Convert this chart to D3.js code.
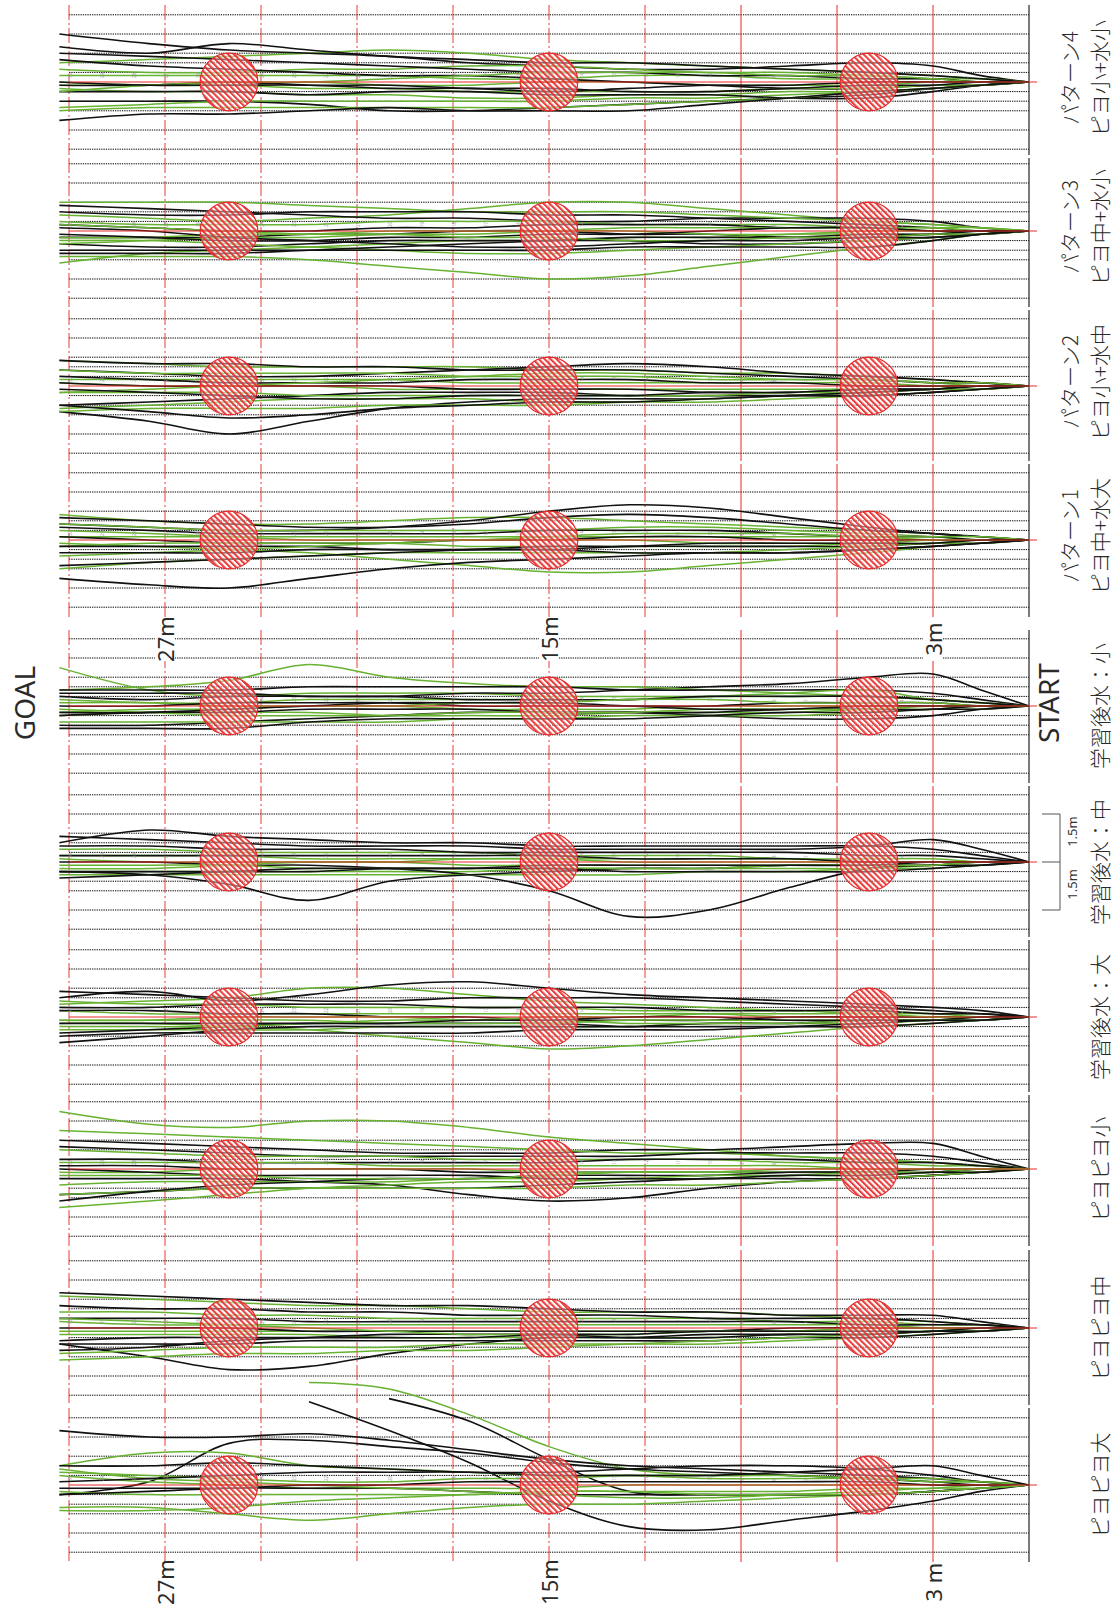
<!DOCTYPE html>
<html>
<head>
<meta charset="utf-8">
<script src="https://cdn.jsdelivr.net/npm/d3@7"></script>
<style>
  html, body { margin: 0; padding: 0; background: #fff; }
  svg { display: block; }
</style>
</head>
<body>
<svg id="chart" width="1115" height="1612"></svg>
<script>
// Sampling distances along the course (m from START)
const DISTANCES_M = [0, 1.5, 3, 5, 7.5, 10, 12.5, 15, 17.5, 20, 22.5, 25, 27.5, 30.3];
// Gridline distances (m) and lateral guide offsets (m)
const DIST_TICKS = [0, 3, 6, 9, 12, 15, 18, 21, 24, 27, 30];
const LATERAL_TICKS = [-2.1, -1.5, -0.9, -0.6, -0.3, 0.3, 0.6, 0.9, 1.5, 2.1];
const OBSTACLES_M = [5, 15, 25];
const OBSTACLE_RADIUS_M = 0.9;
const AXIS_LABELS = [{ d: 27, text: "27m" }, { d: 15, text: "15m" }, { d: 3, text: "3m" }];
const AXIS_LABELS_BOTTOM = [{ d: 27, text: "27m" }, { d: 15, text: "15m" }, { d: 3, text: "3 m" }];

// Condition names, top to bottom
const PANEL_TITLES = ["パターン4", "パターン3", "パターン2", "パターン1",
  "学習後水：小", "学習後水：中", "学習後水：大", "ピヨピヨ小", "ピヨピヨ中", "ピヨピヨ大"];
const PANEL_SUBTITLES = ["ピヨ小+水小", "ピヨ中+水小", "ピヨ小+水中", "ピヨ中+水大",
  null, null, null, null, null, null];

// Walking tracks: lateral deviation (dm, + = lower side) at each sampling distance
const p4Black = [
  [0,-2,-5,-6,-5,-4,-4,-5,-6,-8,-9,-10,-12,-15],
  [0,-1,-2,-3,-4,-5,-6,-6,-7,-8,-10,-12,-9,-11],
  [0,0,-1,-1,-2,-2,-3,-3,-4,-5,-6,-7,-8,-9],
  [0,1,1,2,2,1,0,-1,-2,-2,-3,-4,-5,-7],
  [0,0,1,1,2,3,3,2,2,1,1,0,1,1],
  [0,1,2,4,5,6,7,8,9,9,7,6,6,6],
  [0,1,3,5,5,4,4,4,3,3,4,3,3,3],
  [0,1,2,3,5,7,9,9,9,8,9,10,10,12],
  [0,0,0,0,1,1,2,3,2,2,1,1,1,0]
];
const p4Green = [
  [0,-1,-2,-3,-4,-5,-6,-7,-9,-10,-9,-8,-7,-6],
  [0,-1,-1,-2,-3,-3,-4,-5,-5,-4,-4,-3,-3,-4],
  [0,0,-1,-1,-1,-2,-2,-1,-1,-2,-2,-2,-2,-2],
  [0,0,0,1,1,1,0,0,1,1,0,1,1,1],
  [0,1,1,2,2,3,3,3,3,2,2,1,1,0],
  [0,1,2,3,3,4,4,5,5,4,4,3,3,2],
  [0,1,2,3,4,5,5,6,6,6,6,6,7,8],
  [0,1,2,3,5,6,7,8,8,8,8,8,8,9],
  [0,0,-1,-2,-2,-3,-3,-3,-2,-1,0,0,1,3]
];
const p3Black = [
  [0,-1,-3,-4,-4,-4,-3,-3,-4,-4,-5,-6,-7,-8],
  [0,0,-1,-2,-3,-4,-5,-5,-6,-6,-6,-5,-5,-6],
  [0,0,0,-1,-1,-2,-2,-2,-1,-1,0,0,-1,-2],
  [0,1,1,2,2,1,1,0,0,1,1,2,2,2],
  [0,1,2,3,4,4,3,3,3,3,4,5,5,4],
  [0,1,3,5,5,5,5,6,6,6,6,6,6,6],
  [0,0,1,1,2,2,2,3,4,5,6,7,7,7],
  [0,0,0,-1,-1,0,1,1,2,2,3,3,2,1],
  [0,1,2,2,3,3,4,5,5,4,3,2,0,-1]
];
const p3Green = [
  [0,-1,-2,-3,-5,-7,-9,-9,-7,-5,-4,-3,-4,-5],
  [0,-1,-2,-3,-4,-5,-6,-6,-6,-7,-8,-9,-9,-9],
  [0,0,-1,-1,-2,-2,-2,-3,-3,-3,-2,-2,-2,-3],
  [0,1,3,5,8,11,14,15,13,11,9,8,8,8],
  [0,0,1,1,1,2,2,3,3,4,5,6,7,10],
  [0,1,2,3,4,5,6,7,7,6,5,4,3,3],
  [0,0,0,0,1,1,0,0,0,0,1,1,2,2],
  [0,-1,-1,-1,-1,-1,-1,0,1,1,2,2,3,4],
  [0,1,1,2,2,3,3,2,2,1,1,0,-1,-2]
];
const p2Black = [
  [0,-1,-2,-3,-4,-6,-7,-6,-5,-4,-3,-3,-4,-5],
  [0,-1,-1,-2,-3,-4,-5,-5,-5,-6,-6,-7,-7,-8],
  [0,0,0,0,-1,-1,-2,-2,-2,-1,-1,-1,-2,-3],
  [0,1,1,1,2,2,1,1,1,0,0,0,0,-1],
  [0,1,2,3,3,4,4,4,5,7,11,15,11,8],
  [0,1,2,3,3,3,3,2,2,2,3,4,5,6],
  [0,0,1,2,3,4,5,5,6,7,9,10,8,6],
  [0,0,1,1,2,2,3,3,3,4,4,3,2,1]
];
const p2Green = [
  [0,-1,-2,-3,-4,-4,-5,-5,-6,-6,-6,-6,-7,-8],
  [0,0,-1,-2,-2,-2,-3,-3,-3,-4,-4,-4,-4,-5],
  [0,0,0,-1,-1,-1,-1,-1,-1,-2,-2,-2,-2,-2],
  [0,0,1,1,1,1,1,1,1,1,0,0,0,-1],
  [0,1,2,3,4,5,5,5,4,4,4,5,6,7],
  [0,1,1,2,3,4,5,6,6,6,7,7,7,8],
  [0,0,1,2,2,3,3,3,3,3,3,2,2,2],
  [0,-1,-1,-2,-2,-3,-4,-4,-3,-2,-1,0,1,2]
];
const p1Black = [
  [0,-1,-2,-4,-7,-10,-11,-9,-6,-4,-3,-3,-4,-5],
  [0,-1,-2,-3,-5,-7,-8,-7,-5,-4,-4,-5,-6,-7],
  [0,0,-1,-1,-2,-3,-3,-3,-2,-2,-2,-2,-3,-4],
  [0,0,0,0,0,-1,-1,0,0,1,1,1,0,-1],
  [0,1,1,2,2,2,2,3,3,3,2,2,2,2],
  [0,1,2,3,4,4,5,6,7,9,12,15,14,12],
  [0,1,2,3,4,4,4,3,3,3,3,4,4,4],
  [0,0,1,1,1,1,2,2,3,4,5,6,7,8]
];
const p1Green = [
  [0,-1,-2,-3,-4,-5,-6,-7,-7,-6,-5,-5,-6,-8],
  [0,0,-1,-2,-3,-4,-4,-3,-3,-3,-3,-3,-4,-5],
  [0,0,0,-1,-1,-1,-1,-1,-1,-1,-1,-1,-1,-1],
  [0,1,2,4,6,8,10,10,8,6,4,3,2,1],
  [0,0,1,1,2,2,2,2,2,1,1,1,1,2],
  [0,1,1,2,3,4,4,4,4,4,5,6,7,9],
  [0,0,0,1,1,1,0,0,0,1,2,3,4,5],
  [0,-1,-1,-1,-2,-2,-2,-1,0,0,0,-1,-2,-3]
];
const waterSmallBlack = [
  [0,-5,-10,-9,-7,-6,-5,-4,-4,-3,-3,-3,-2,-3],
  [0,-2,-4,-5,-5,-5,-5,-6,-6,-6,-6,-5,-5,-5],
  [0,-1,-2,-3,-3,-3,-2,-2,-2,-3,-3,-4,-4,-4],
  [0,0,-1,-1,-1,0,0,0,0,-1,-1,-1,0,0],
  [0,1,3,4,4,3,2,2,2,3,4,5,6,6],
  [0,0,1,1,1,2,2,2,1,1,1,2,2,3],
  [0,1,1,2,2,3,4,4,4,4,5,7,7,7],
  [0,0,0,0,1,1,0,-1,-1,-1,0,1,2,2]
];
const waterSmallGreen = [
  [0,-1,-2,-3,-3,-3,-3,-3,-4,-4,-4,-3,-5,-12],
  [0,-1,-2,-3,-4,-5,-6,-6,-7,-9,-13,-8,-6,-5],
  [0,-1,-2,-5,-4,-3,-2,-2,-2,-2,-2,-1,-1,-2],
  [0,0,0,0,0,0,1,1,1,0,0,0,-1,-1],
  [0,0,1,1,2,2,2,3,3,3,2,2,2,3],
  [0,1,1,2,3,3,3,4,4,5,5,5,5,5],
  [0,0,0,1,1,1,2,2,2,3,3,3,2,1],
  [0,0,-1,-1,-1,-2,-2,-1,-1,0,0,1,1,2]
];
const waterMidBlack = [
  [0,-4,-7,-5,-4,-4,-4,-4,-5,-5,-5,-6,-7,-8],
  [0,-2,-4,-5,-5,-5,-5,-5,-6,-6,-7,-8,-10,-6],
  [0,-1,-2,-2,-3,-3,-3,-3,-3,-4,-4,-4,-5,-5],
  [0,0,1,2,8,15,17,9,4,2,1,1,0,0],
  [0,1,1,1,1,2,2,3,4,6,12,7,4,3],
  [0,0,0,1,1,1,1,1,2,2,3,3,3,3],
  [0,1,2,3,3,3,3,2,2,2,2,3,4,5],
  [0,0,0,0,-1,-1,-1,-2,-2,-2,-2,-2,-2,-2]
];
const waterMidGreen = [
  [0,0,-1,-1,-1,-2,-2,-2,-3,-3,-3,-3,-4,-4],
  [0,0,0,0,-1,-1,-1,-1,-1,-1,-1,-2,-2,-2],
  [0,0,1,1,1,1,1,1,1,0,0,0,0,-1],
  [0,1,1,2,2,2,2,2,3,3,3,3,3,3],
  [0,1,2,2,3,3,4,4,4,4,4,4,4,4],
  [0,0,1,1,1,2,2,2,2,2,2,1,1,1],
  [0,0,0,0,0,0,0,-1,-1,0,0,1,2,2]
];
const waterLargeBlack = [
  [0,-2,-3,-4,-5,-6,-7,-9,-11,-10,-7,-5,-8,-6],
  [0,-1,-2,-3,-4,-5,-6,-6,-6,-5,-5,-6,-7,-8],
  [0,-1,-1,-2,-2,-2,-3,-3,-3,-4,-4,-4,-3,-3],
  [0,0,0,0,0,1,1,1,0,0,-1,-1,-2,-2],
  [0,1,2,3,3,3,3,2,2,2,2,3,4,5],
  [0,1,1,2,3,4,4,4,5,5,5,5,5,6],
  [0,0,1,1,2,2,3,3,3,3,3,4,6,8],
  [0,1,1,1,1,0,0,1,1,2,2,2,2,2]
];
const waterLargeGreen = [
  [0,-1,-1,-2,-2,-3,-4,-5,-7,-9,-9,-6,-5,-4],
  [0,0,-1,-1,-2,-2,-2,-3,-3,-3,-3,-4,-4,-5],
  [0,0,0,0,0,-1,-1,-1,-1,-1,-1,-1,-1,-2],
  [0,1,2,3,5,7,9,10,8,6,4,3,2,2],
  [0,1,1,2,2,2,3,3,3,3,4,4,4,4],
  [0,0,1,1,1,1,1,2,2,2,1,1,1,1],
  [0,0,0,-1,-1,-1,0,0,1,1,2,3,3,3],
  [0,1,1,1,2,2,2,1,1,0,0,0,1,1]
];
const piyoSmallBlack = [
  [0,-4,-8,-8,-7,-6,-6,-5,-5,-5,-6,-7,-8,-9],
  [0,-2,-4,-5,-5,-5,-4,-4,-4,-4,-4,-5,-6,-7],
  [0,-1,-2,-2,-3,-3,-3,-2,-2,-2,-2,-2,-3,-3],
  [0,0,0,1,1,1,1,1,1,0,0,0,-1,-1],
  [0,1,2,3,4,6,9,10,8,5,4,3,3,3],
  [0,1,2,3,3,3,4,5,6,6,6,6,7,8],
  [0,0,1,1,1,2,2,2,3,3,4,5,7,10],
  [0,1,1,2,2,3,3,3,2,2,2,2,1,0]
];
const piyoSmallGreen = [
  [0,-1,-2,-3,-4,-6,-8,-10,-13,-15,-15,-13,-14,-18],
  [0,-1,-2,-3,-4,-5,-5,-6,-7,-8,-9,-10,-11,-12],
  [0,-1,-1,-2,-2,-3,-3,-3,-3,-4,-4,-4,-5,-6],
  [0,0,0,0,-1,-1,-1,-1,-1,-1,-2,-2,-2,-2],
  [0,0,1,1,1,1,1,1,0,0,0,0,1,1],
  [0,1,1,2,2,3,3,3,3,4,4,4,4,5],
  [0,1,2,3,4,5,5,6,6,6,6,6,7,8],
  [0,0,1,1,2,2,3,4,4,5,6,8,10,12],
  [0,0,0,0,0,1,1,2,3,3,3,2,2,2]
];
const piyoMidBlack = [
  [0,-2,-4,-4,-4,-5,-5,-6,-7,-7,-8,-9,-10,-11],
  [0,-1,-2,-3,-3,-3,-4,-4,-4,-5,-5,-6,-6,-7],
  [0,-1,-1,-1,-2,-2,-2,-2,-2,-2,-2,-3,-3,-3],
  [0,0,0,0,0,1,1,1,1,1,1,0,0,0],
  [0,1,1,2,2,2,3,3,5,8,12,13,9,5],
  [0,1,2,3,3,4,4,4,4,4,4,5,5,5],
  [0,1,1,2,2,3,3,2,2,2,3,4,6,7],
  [0,0,1,1,1,1,2,2,3,3,3,3,3,4]
];
const piyoMidGreen = [
  [0,-1,-2,-3,-4,-5,-5,-5,-6,-7,-7,-8,-9,-10],
  [0,-1,-1,-2,-2,-3,-3,-3,-3,-3,-4,-4,-5,-5],
  [0,0,0,-1,-1,-1,-1,-1,-1,-1,-1,-1,-1,-2],
  [0,0,1,1,1,1,1,1,1,1,1,1,1,1],
  [0,1,1,2,2,3,3,3,3,3,2,2,2,2],
  [0,1,2,3,4,5,5,5,5,6,6,6,7,8],
  [0,1,1,2,3,4,5,6,7,7,8,8,9,10],
  [0,0,0,0,1,1,2,2,2,1,0,-1,-2,-3]
];
const piyoLargeBlack = [
  [0,-1,-2,-3,-4,-5,-6,-8,-11,-14,-16,-15,-15,-17],
  [0,0,-1,-2,-3,-4,-5,-7,-10,-12,-14,-13,-1,3],
  [0,2,5,8,11,14,13,5,-7,-17,-26,null,null,null],
  [0,1,2,3,3,3,2,-8,-20,-27,null,null,null,null],
  [0,1,2,3,3,3,3,3,2,1,1,1,2,3],
  [0,-1,-3,-5,-6,-6,-5,-4,-4,-5,-6,-7,-6,-6],
  [0,0,0,-1,-1,-1,-1,-1,-1,0,0,1,1,1],
  [0,-3,-6,-5,-4,-3,-3,-3,-4,-4,-4,-3,-2,-1]
];
const piyoLargeGreen = [
  [0,-1,-1,-2,-3,-3,-5,-12,-22,-30,-32,null,null,null],
  [0,1,2,3,4,5,6,6,7,9,11,9,7,7],
  [0,-1,-1,-2,-2,-2,-3,-3,-4,-5,-6,-10,-10,-6],
  [0,0,1,1,2,2,2,2,3,3,3,3,3,2],
  [0,0,0,0,0,0,0,1,1,1,1,0,-1,-3],
  [0,1,1,2,3,4,4,3,2,1,0,-1,-2,-5],
  [0,-1,-2,-2,-3,-3,-3,-2,-2,-1,-1,-2,-3,-4],
  [0,1,2,3,3,3,2,2,3,4,5,7,8,8]
];

const BLACK_TRACKS = [p4Black, p3Black, p2Black, p1Black, waterSmallBlack, waterMidBlack,
  waterLargeBlack, piyoSmallBlack, piyoMidBlack, piyoLargeBlack];
const GREEN_TRACKS = [p4Green, p3Green, p2Green, p1Green, waterSmallGreen, waterMidGreen,
  waterLargeGreen, piyoSmallGreen, piyoMidGreen, piyoLargeGreen];

// ---- layout ----
const svg = d3.select("#chart");
const PX_PER_M = 32;
const x = d3.scaleLinear().domain([0, 30]).range([1029, 1029 - 30 * PX_PER_M]);
const centers = [82, 231, 386, 540, 706, 862, 1017, 1169, 1328, 1485];
// vertical extent of each strip
const bands = [[5,155],[158,307],[310,461],[464,617],[630,783],[786,937],[940,1092],[1095,1246],[1250,1405],[1408,1562]];

const RED = "#e62a2a";
const GREEN = "#67b231";
const INK = "#111";

const defs = svg.append("defs");
const pat = defs.append("pattern")
  .attr("id", "hatch").attr("patternUnits", "userSpaceOnUse")
  .attr("width", 4.2).attr("height", 4.2)
  .attr("patternTransform", "rotate(-45)");
pat.append("rect").attr("width", 4.2).attr("height", 4.2).attr("fill", "#fff").attr("fill-opacity", 0.45);
pat.append("rect").attr("width", 2.1).attr("height", 4.2).attr("fill", RED).attr("fill-opacity", 0.9);

const gGrid = svg.append("g");
const gTracks = svg.append("g");
const gTop = svg.append("g");

PANEL_TITLES.forEach((title, i) => {
  const cy = centers[i];
  const [top, bot] = bands[i];
  const y = d3.scaleLinear().domain([-2.4, 2.4]).range([cy - 2.4 * PX_PER_M, cy + 2.4 * PX_PER_M]);

  // lateral guide lines (dotted)
  gGrid.selectAll(null).data(LATERAL_TICKS).join("line")
    .attr("x1", x(30)).attr("x2", x(0))
    .attr("y1", d => y(d)).attr("y2", d => y(d))
    .attr("stroke", "#000").attr("stroke-width", 1)
    .attr("stroke-dasharray", "1.3,1");

  // distance gridlines
  gGrid.selectAll(null).data(DIST_TICKS).join("line")
    .attr("x1", d => x(d)).attr("x2", d => x(d))
    .attr("y1", top).attr("y2", bot)
    .attr("stroke", d => d === 0 ? "#333" : RED)
    .attr("stroke-opacity", d => d === 0 ? 1 : (d >= 12 ? 0.7 : 1))
    .attr("stroke-width", d => d === 0 ? 1.3 : (d >= 12 ? 1.3 : 1))
    .attr("stroke-dasharray", d => d >= 12 ? "15,3,2,3" : null);

  // tracks
  const line = d3.line()
    .defined(v => v !== null)
    .x((v, j) => x(DISTANCES_M[j]))
    .y(v => y(v / 10))
    .curve(d3.curveCatmullRom.alpha(0.5));

  const blacks = BLACK_TRACKS[i], greens = GREEN_TRACKS[i];
  const n = Math.max(blacks.length, greens.length);
  for (let k = 0; k < n; k++) {
    if (greens[k]) gTracks.append("path").attr("d", line(greens[k]))
      .attr("fill", "none").attr("stroke", GREEN).attr("stroke-width", 1.5);
    if (blacks[k]) gTracks.append("path").attr("d", line(blacks[k]))
      .attr("fill", "none").attr("stroke", INK).attr("stroke-width", 1.6);
  }

  // obstacles
  gTop.selectAll(null).data(OBSTACLES_M).join("circle")
    .attr("cx", d => x(d)).attr("cy", y(0))
    .attr("r", OBSTACLE_RADIUS_M * PX_PER_M)
    .attr("fill", "url(#hatch)")
    .attr("stroke", RED).attr("stroke-width", 1.2);

  // course centreline
  gTop.append("line")
    .attr("x1", x(30)).attr("x2", x(0) + 8)
    .attr("y1", y(0)).attr("y2", y(0))
    .attr("stroke", RED).attr("stroke-width", 1);

  // metre marks along centreline
  gTop.selectAll(null).data(d3.range(1, 31)).join("text")
    .attr("transform", d => `translate(${x(d) + 1},${y(0) - 4}) rotate(-90)`)
    .attr("font-family", "Noto Sans, sans-serif").attr("font-size", 4.5)
    .attr("fill", "#999").attr("text-anchor", "start").attr("dominant-baseline", "central")
    .text(d => d);

  // condition labels
  const sub = PANEL_SUBTITLES[i];
  const lbl = svg.append("g").attr("font-family", "'Noto Sans CJK JP', sans-serif")
    .attr("font-size", 21).attr("font-weight", 300).attr("fill", "#2a2a2a");
  if (sub) {
    lbl.append("text").attr("transform", `translate(1069,${cy - 4}) rotate(-90)`)
      .attr("text-anchor", "middle").attr("dominant-baseline", "central").text(title);
    lbl.append("text").attr("transform", `translate(1099,${cy - 4}) rotate(-90)`)
      .attr("text-anchor", "middle").attr("dominant-baseline", "central").text(sub);
  } else {
    lbl.append("text").attr("transform", `translate(1099,${cy}) rotate(-90)`)
      .attr("text-anchor", "middle").attr("dominant-baseline", "central").text(title);
  }
});

// distance labels between the groups and below
const axisFont = "'Noto Sans', 'Open Sans', sans-serif";
AXIS_LABELS.forEach(a => {
  svg.append("rect").attr("x", x(a.d) - 10).attr("y", 617).attr("width", 20).attr("height", 44).attr("fill", "#fff");
  svg.append("text").attr("transform", `translate(${x(a.d)},639) rotate(-90)`)
    .attr("font-family", axisFont).attr("font-size", 22).attr("fill", "#2a2a2a")
    .attr("text-anchor", "middle").attr("dominant-baseline", "central").text(a.text);
});
AXIS_LABELS_BOTTOM.forEach(a => {
  svg.append("text").attr("transform", `translate(${x(a.d)},1582) rotate(-90)`)
    .attr("font-family", axisFont).attr("font-size", 22).attr("fill", "#2a2a2a")
    .attr("text-anchor", "middle").attr("dominant-baseline", "central").text(a.text);
});

// GOAL / START
svg.append("text").attr("transform", "translate(24,703) rotate(-90)")
  .attr("font-family", axisFont).attr("font-size", 28).attr("fill", "#2a2a2a")
  .attr("text-anchor", "middle").attr("dominant-baseline", "central").text("GOAL");
svg.append("text").attr("transform", "translate(1048,703) rotate(-90)")
  .attr("font-family", axisFont).attr("font-size", 28).attr("fill", "#2a2a2a")
  .attr("text-anchor", "middle").attr("dominant-baseline", "central").text("START");

// 1.5 m scale bar
const sb = svg.append("g").attr("stroke", "#555").attr("stroke-width", 1).attr("fill", "none");
const sy = centers[5];
sb.append("line").attr("x1", 1060).attr("x2", 1060).attr("y1", sy - 1.5 * PX_PER_M).attr("y2", sy + 1.5 * PX_PER_M);
[-1.5, 0, 1.5].forEach(v => {
  sb.append("line").attr("x1", 1042).attr("x2", 1060).attr("y1", sy + v * PX_PER_M).attr("y2", sy + v * PX_PER_M);
});
[-0.95, 0.7].forEach(v => {
  svg.append("text").attr("transform", `translate(1072,${sy + v * PX_PER_M}) rotate(-90)`)
    .attr("font-family", axisFont).attr("font-size", 13).attr("fill", "#333")
    .attr("text-anchor", "middle").attr("dominant-baseline", "central").text("1.5m");
});
</script>
</body>
</html>
